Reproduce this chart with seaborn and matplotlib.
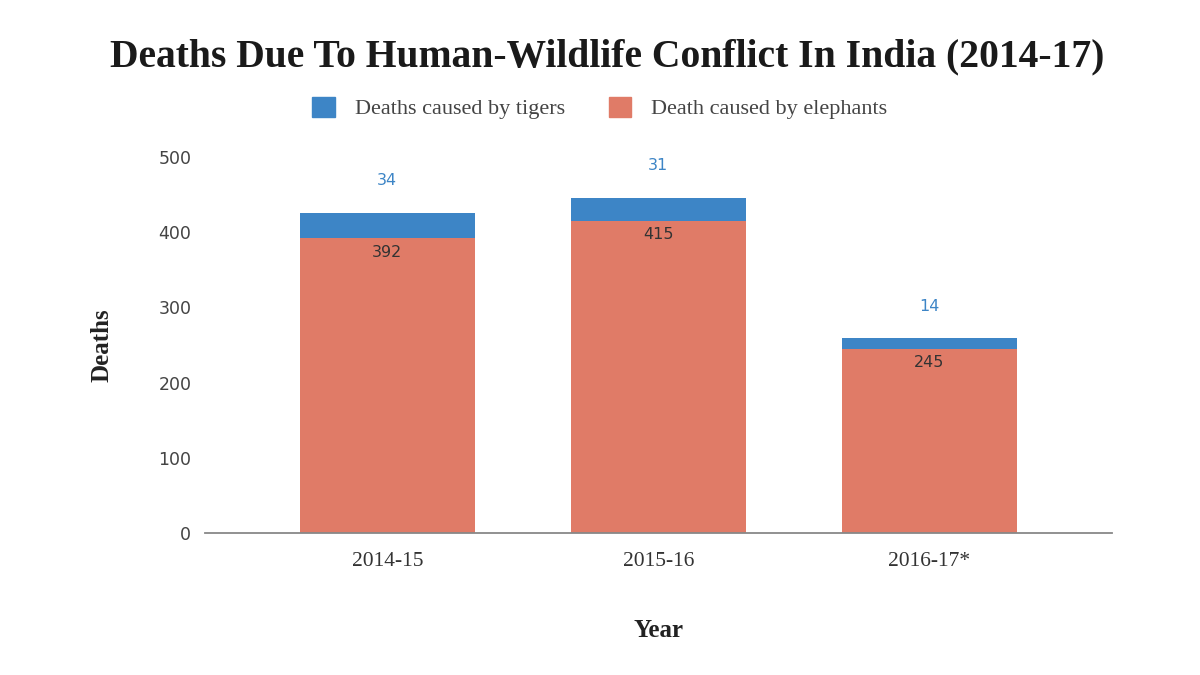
import matplotlib
matplotlib.use("Agg")

import matplotlib.pyplot as plt
import matplotlib.patches as mpatches
import seaborn as sns
import pandas as pd

# ── data ──
years     = ["2014-15", "2015-16", "2016-17*"]
elephants = [392, 415, 245]
tigers    = [34, 31, 14]

# ── theme ──
BLUE   = "#3d85c6"
SALMON = "#e07b67"
TEXT   = "#333333"
AXIS   = "#888888"
SERIF  = "Liberation Serif"
SANS   = "DejaVu Sans"

sns.set_theme(style="white")
plt.rcParams["font.family"] = [SERIF, "DejaVu Serif"]

df = pd.DataFrame({"year": years, "elephants": elephants, "tigers": tigers})

fig = plt.figure(figsize=(12, 6.75), dpi=100, facecolor="white")
ax = fig.add_axes([0.171, 0.2104, 0.756, 0.557])

sns.barplot(data=df, x="year", y="elephants", color=SALMON, width=0.646,
            saturation=1, linewidth=0, ax=ax)
sns.barplot(data=df, x="year", y="tigers", bottom=df["elephants"], color=BLUE,
            width=0.646, saturation=1, linewidth=0, ax=ax)

# value labels
for i, (e, t) in enumerate(zip(elephants, tigers)):
    ax.annotate(str(e), (i, e), xytext=(0, -10), textcoords="offset points",
                ha="center", va="center", fontsize=11.5, color=TEXT, family=SANS)
    ax.annotate(str(t), (i, e + t), xytext=(0, 23), textcoords="offset points",
                ha="center", va="center", fontsize=11.5, color=BLUE, family=SANS)

ax.set_ylim(0, 500)
ax.set_xlim(-0.672, 2.675)
ax.set_yticks([0, 100, 200, 300, 400, 500])
for lbl in ax.get_yticklabels():
    lbl.set_family(SANS)
ax.tick_params(axis="y", labelsize=12.5, colors="#444444", length=0, pad=10)
ax.tick_params(axis="x", labelsize=15.5, colors="#333333", length=0, pad=14)

for s in ["top", "right", "left"]:
    ax.spines[s].set_visible(False)
ax.spines["bottom"].set_color(AXIS)
ax.spines["bottom"].set_linewidth(1.3)

ax.set_xlabel("Year", fontsize=18, fontweight="bold", color="#222222", labelpad=34)
ax.set_ylabel("Deaths", fontsize=18, fontweight="bold", color="#222222", labelpad=32)

fig.text(0.506, 0.916, "Deaths Due To Human-Wildlife Conflict In India (2014-17)",
         ha="center", va="center", fontsize=28.5, fontweight="bold", color="#1a1a1a")

handles = [mpatches.Patch(color=BLUE, label="Deaths caused by tigers"),
           mpatches.Patch(color=SALMON, label="Death caused by elephants")]
fig.legend(handles=handles, loc="center", bbox_to_anchor=(0.5, 0.84), ncol=2,
           frameon=False, fontsize=16, handlelength=1.0, handleheight=1.0,
           columnspacing=2.0, handletextpad=0.9, labelcolor="#444444")

fig.savefig("out.png", dpi=100, facecolor="white")
